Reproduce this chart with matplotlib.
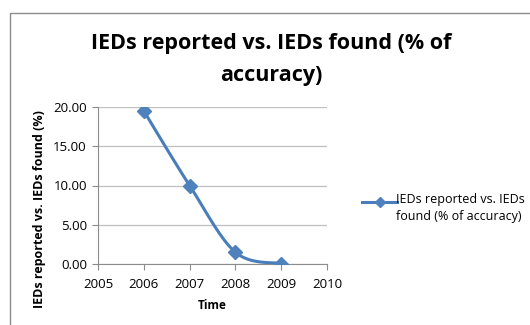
import numpy as np
import matplotlib.pyplot as plt
from matplotlib.patches import Rectangle

years = [2006, 2007, 2008, 2009]
accuracy = [19.5, 10.0, 1.5, 0.05]
series_name = "IEDs reported vs. IEDs\nfound (% of accuracy)"

plt.rcParams['font.family'] = ['Open Sans', 'DejaVu Sans']


def smooth(xs, ys, steps=30):
    # catmull-rom style curve through the points, like a spreadsheet "smoothed line"
    xs = np.asarray(xs, float)
    ys = np.asarray(ys, float)
    px = np.concatenate([[xs[0]], xs, [xs[-1]]])
    py = np.concatenate([[ys[0]], ys, [ys[-1]]])
    outx, outy = [], []
    for i in range(1, len(px) - 2):
        t = np.linspace(0, 1, steps)
        for p, out in ((px, outx), (py, outy)):
            p0, p1, p2, p3 = p[i - 1], p[i], p[i + 1], p[i + 2]
            c1 = p1 + (p2 - p0) / 6
            c2 = p2 - (p3 - p1) / 6
            out.extend((1 - t) ** 3 * p1 + 3 * (1 - t) ** 2 * t * c1 + 3 * (1 - t) * t ** 2 * c2 + t ** 3 * p2)
    return outx, outy


fig = plt.figure(figsize=(5.3, 3.25), dpi=100)
fig.patches.append(Rectangle((10 / 530, -0.1), 1.2, 1 - 13 / 325 + 0.1, transform=fig.transFigure,
                             fill=False, edgecolor='#8c8c8c', linewidth=1))

ax = fig.add_axes([98 / 530, 1 - 264 / 325, 229 / 530, 157 / 325])
sx, sy = smooth(years, accuracy)
ax.plot(sx, sy, color='#4a7ebb', linewidth=2.2, zorder=3)
ax.plot(years, accuracy, linestyle='none', marker='D', markersize=7, color='#4f81bd', zorder=4)

ax.set_xlim(2005, 2010)
ax.set_ylim(0, 20)
ax.set_xticks(range(2005, 2011))
ax.set_yticks([0, 5, 10, 15, 20])
ax.set_yticklabels(['%.2f' % v for v in [0, 5, 10, 15, 20]])
ax.grid(axis='y', color='#bfbfbf', linewidth=0.9)
ax.set_axisbelow(True)
for s in ['top', 'right']:
    ax.spines[s].set_visible(False)
for s in ['left', 'bottom']:
    ax.spines[s].set_color('#8c8c8c')
ax.tick_params(axis='x', length=4, color='#8c8c8c', labelsize=9.5, pad=6, direction='out')
ax.tick_params(axis='y', length=4, color='#8c8c8c', labelsize=9.5, pad=4)

ax.set_xlabel('Time', fontsize=8.5, fontweight='bold', labelpad=6)
ax.set_ylabel('IEDs reported vs. IEDs found (%)', fontsize=9, fontweight='bold', va='center')
ax.yaxis.set_label_coords(-58 / 229, (264 - 209) / 157)

fig.text(271 / 530, 1 - 43 / 325, 'IEDs reported vs. IEDs found (% of', ha='center', va='center',
         fontsize=15.5, fontweight='bold')
fig.text(271 / 530, 1 - 75 / 325, 'accuracy)', ha='center', va='center',
         fontsize=15.5, fontweight='bold')

# legend drawn by hand so the line sits beside the first text line
ly = 1 - 202 / 325
fig.lines.append(plt.Line2D([362 / 530, 397 / 530], [ly, ly], transform=fig.transFigure,
                            color='#4a7ebb', linewidth=2.2))
fig.lines.append(plt.Line2D([379.5 / 530], [ly], transform=fig.transFigure, marker='D',
                            markersize=5, color='#4f81bd'))
fig.text(396 / 530, ly + 0.027, series_name, ha='left', va='top', fontsize=9,
         linespacing=1.35, transform=fig.transFigure)

fig.savefig('out.png', dpi=100)
